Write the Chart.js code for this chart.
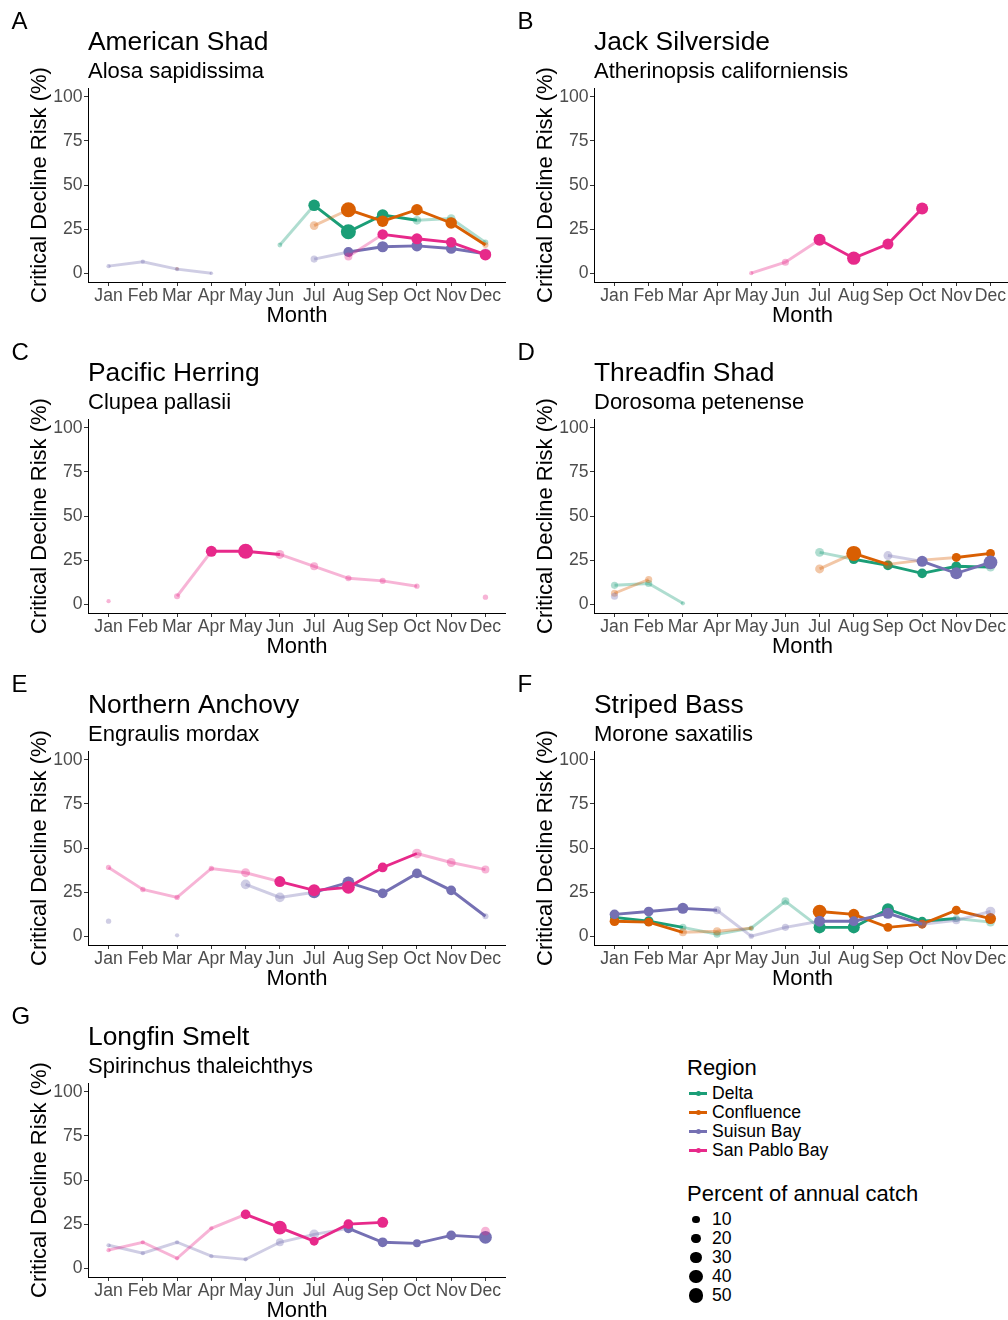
<!DOCTYPE html>
<html>
<head>
<meta charset="utf-8">
<script src="https://cdn.jsdelivr.net/npm/chart.js@4.4.1/dist/chart.umd.min.js"></script>
<style>
html,body{margin:0;padding:0;width:1008px;height:1320px;overflow:hidden;background:#fff;}
#wrap{position:relative;width:1008px;height:1320px;overflow:hidden;font-family:"Liberation Sans",Arial,sans-serif;color:#000;}
.txt{position:absolute;white-space:nowrap;}
</style>
</head>
<body>
<div id="wrap"></div>
<script>
const n = null;
const months = ['Jan','Feb','Mar','Apr','May','Jun','Jul','Aug','Sep','Oct','Nov','Dec'];
const yTicks = [0,25,50,75,100];
const regions = ['Delta','Confluence','Suisun Bay','San Pablo Bay'];
const regionColors = ['#1b9e77','#d95f02','#7570b3','#e7298a'];
const legendCatch = [10,20,30,40,50];

// A American Shad
const shadDelta        = [n,n,n,n,n,16,38.5,23.5,33,30,31,17.5];
const shadDeltaCatch   = [n,n,n,n,n,3,30,55,30,15,15,5];
const shadDeltaSolid   = [0,0,0,0,0,0,1,1,1,0,0,0];
const shadConf         = [n,n,2.5,n,n,n,27,36,29.5,36,28.5,16];
const shadConfCatch    = [n,n,1,n,n,n,15,55,30,30,30,6];
const shadConfSolid    = [0,0,0,0,0,0,0,1,1,1,1,0];
const shadSuisun       = [4,6.5,2.3,0,n,n,8,12,15,15.5,14,11];
const shadSuisunCatch  = [2,2,2,1,n,n,9,21,27,27,24,27];
const shadSuisunSolid  = [0,0,0,0,0,0,0,1,1,1,1,0];
const shadSP           = [n,n,n,n,n,n,n,9.5,22,19.5,17.5,10.5];
const shadSPCatch      = [n,n,n,n,n,n,n,12,24,27,24,30];
const shadSPSolid      = [0,0,0,0,0,0,0,0,1,1,1,1];

// B Jack Silverside
const silvSP           = [n,n,n,n,0,6.2,19,8.5,16.5,36.7,n,n];
const silvSPCatch      = [n,n,n,n,2,9,33,42,27,33,n,n];
const silvSPSolid      = [0,0,0,0,0,0,1,1,1,1,0,0];

// C Pacific Herring
const herrSP           = [1.7,n,4.5,30,30,28.2,21.5,14.7,13.2,10.2,n,4];
const herrSPCatch      = [2,n,6,27,55,16,12,6,6,4,n,4];
const herrSPSolid      = [0,0,0,1,1,0,0,0,0,0,0,0];

// D Threadfin Shad
const thrDelta         = [10.7,11.7,0.5,n,n,n,29.4,25.5,22,17.5,21.5,21];
const thrDeltaCatch    = [9,9,2,n,n,n,16,20,20,20,20,16];
const thrDeltaSolid    = [0,0,0,0,0,0,0,1,1,1,1,0];
const thrConf          = [6.2,14,n,n,n,n,20,28.8,22.6,25,26.5,28.8];
const thrConfCatch     = [9,9,n,n,n,n,16,55,16,10,16,16];
const thrConfSolid     = [0,0,0,0,0,0,0,1,0,0,1,1];
const thrSuisun        = [4.5,n,n,n,n,n,n,n,27.6,24.3,17.5,23.7];
const thrSuisunCatch   = [9,n,n,n,n,n,n,n,16,27,33,45];
const thrSuisunSolid   = [0,0,0,0,0,0,0,0,0,1,1,1];

// E Northern Anchovy
const anchSP           = [39,26.5,22,38.4,36,31,26,27.7,39,46.9,41.8,37.8];
const anchSPCatch      = [4,4,4,4,16,27,33,38,20,20,16,12];
const anchSPSolid      = [0,0,0,0,0,1,1,1,1,0,0,0];
const anchSuisun       = [8.5,n,0.5,n,29.4,22,24.9,30.5,24.3,35.6,26,11.3];
const anchSuisunCatch  = [4,n,2,n,20,20,33,33,20,20,20,6];
const anchSuisunSolid  = [0,0,0,0,0,0,1,1,1,1,1,0];

// F Striped Bass
const bassDelta        = [10.7,8.5,5,1.1,4.5,19.8,5,5,15.3,8.5,10,8];
const bassDeltaCatch   = [16,20,9,9,4,12,33,33,33,16,9,16];
const bassDeltaSolid   = [1,1,0,0,0,0,1,1,1,1,0,0];
const bassConf         = [8.5,8,2.2,2.8,4.5,n,14,12.4,5,6.8,14.7,10];
const bassConfCatch    = [20,16,12,12,2,n,45,27,16,16,16,27];
const bassConfSolid    = [1,1,0,0,0,0,1,1,1,1,1,1];
const bassSuisun       = [12.4,14,15.8,14.7,0,5,8.5,8.5,13,6.8,9,14];
const bassSuisunCatch  = [20,20,27,12,4,9,27,20,27,12,12,20];
const bassSuisunSolid  = [1,1,1,0,0,0,1,1,1,0,0,0];

// G Longfin Smelt
const smeltSP          = [10.2,14.7,5.6,22.6,30.5,23,15.3,25,26,n,n,21];
const smeltSPCatch     = [2,2,2,2,20,45,16,20,27,n,n,16];
const smeltSPSolid     = [0,0,0,0,1,1,1,1,1,0,0,0];
const smeltSuisun      = [13,8.5,14.7,6.8,5,14.7,19.2,22.6,14.7,14.1,18.6,17.5];
const smeltSuisunCatch = [2,2,2,2,2,12,20,20,20,12,20,38];
const smeltSuisunSolid = [0,0,0,0,0,0,0,1,1,1,1,1];

const FONT = '"Liberation Sans", Arial, sans-serif';
const wrap = document.getElementById('wrap');
const rowTops = [0, 331, 663, 995];

function radius(p){ return 0.87 + 0.895 * Math.sqrt(p); }
function fade(hex, a){
  const r = parseInt(hex.slice(1,3),16), g = parseInt(hex.slice(3,5),16), b = parseInt(hex.slice(5,7),16);
  return `rgba(${r},${g},${b},${a})`;
}

const panels = [
  {letter:'A', title:'American Shad', sub:'Alosa sapidissima', series:[
    {r:0, v:shadDelta, c:shadDeltaCatch, s:shadDeltaSolid},
    {r:1, v:shadConf, c:shadConfCatch, s:shadConfSolid},
    {r:2, v:shadSuisun, c:shadSuisunCatch, s:shadSuisunSolid},
    {r:3, v:shadSP, c:shadSPCatch, s:shadSPSolid}]},
  {letter:'B', title:'Jack Silverside', sub:'Atherinopsis californiensis', series:[
    {r:3, v:silvSP, c:silvSPCatch, s:silvSPSolid}]},
  {letter:'C', title:'Pacific Herring', sub:'Clupea pallasii', series:[
    {r:3, v:herrSP, c:herrSPCatch, s:herrSPSolid}]},
  {letter:'D', title:'Threadfin Shad', sub:'Dorosoma petenense', series:[
    {r:0, v:thrDelta, c:thrDeltaCatch, s:thrDeltaSolid},
    {r:1, v:thrConf, c:thrConfCatch, s:thrConfSolid},
    {r:2, v:thrSuisun, c:thrSuisunCatch, s:thrSuisunSolid}]},
  {letter:'E', title:'Northern Anchovy', sub:'Engraulis mordax', series:[
    {r:2, v:anchSuisun, c:anchSuisunCatch, s:anchSuisunSolid},
    {r:3, v:anchSP, c:anchSPCatch, s:anchSPSolid}]},
  {letter:'F', title:'Striped Bass', sub:'Morone saxatilis', series:[
    {r:0, v:bassDelta, c:bassDeltaCatch, s:bassDeltaSolid},
    {r:1, v:bassConf, c:bassConfCatch, s:bassConfSolid},
    {r:2, v:bassSuisun, c:bassSuisunCatch, s:bassSuisunSolid}]},
  {letter:'G', title:'Longfin Smelt', sub:'Spirinchus thaleichthys', series:[
    {r:2, v:smeltSuisun, c:smeltSuisunCatch, s:smeltSuisunSolid},
    {r:3, v:smeltSP, c:smeltSPCatch, s:smeltSPSolid}]}
];

function addText(text, left, centerY, size, extra){
  const d = document.createElement('div');
  d.className = 'txt';
  d.textContent = text;
  const lh = Math.round(size * 1.2);
  d.style.cssText += `left:${left}px;top:${centerY - lh/2}px;font-size:${size}px;line-height:${lh}px;` + (extra||'');
  wrap.appendChild(d);
  return d;
}

panels.forEach((p, idx) => {
  const col = idx % 2, row = Math.floor(idx / 2);
  const left = col ? 506 : 0;
  const width = col ? 505 : 506;
  const top = rowTops[row];
  const H = 332;
  const canvas = document.createElement('canvas');
  canvas.width = width; canvas.height = H;
  canvas.style.cssText = `position:absolute;left:${left}px;top:${top}px;width:${width}px;height:${H}px;`;
  wrap.appendChild(canvas);

  addText(p.letter, left + 11.5, top + 20.5, 24);

  const datasets = p.series.map(s => {
    const colr = regionColors[s.r];
    const faded = fade(colr, 0.35);
    return {
      label: regions[s.r],
      order: 3 - s.r,
      data: s.v.map((y, i) => ({x: i + 1, y: y})),
      borderColor: colr,
      borderWidth: 2.9,
      spanGaps: false,
      tension: 0,
      clip: false,
      segment: { borderColor: ctx => s.s[ctx.p0DataIndex] ? colr : faded },
      pointRadius: s.c.map(c => c == null ? 0 : radius(c)),
      pointHoverRadius: s.c.map(c => c == null ? 0 : radius(c)),
      pointBackgroundColor: s.s.map(f => f ? colr : faded),
      pointBorderWidth: 0,
      pointBorderColor: 'rgba(0,0,0,0)'
    };
  });

  new Chart(canvas, {
    type: 'line',
    data: { datasets },
    options: {
      responsive: false,
      animation: false,
      devicePixelRatio: 1,
      layout: { padding: 0, autoPadding: false },
      events: [],
      plugins: {
        legend: { display: false },
        tooltip: { enabled: false },
        title: { display: true, text: p.title, align: 'start', fullSize: false, color: '#000',
                 font: { family: FONT, size: 26.4, weight: 'normal' }, padding: { top: 27, bottom: 0 } },
        subtitle: { display: true, text: p.sub, align: 'start', fullSize: false, color: '#000',
                 font: { family: FONT, size: 22, weight: 'normal' }, padding: { top: 0.5, bottom: 2.5 } }
      },
      scales: {
        x: {
          type: 'linear', min: 0.4, max: 12.6,
          afterBuildTicks: sc => { sc.ticks = months.map((m, i) => ({ value: i + 1 })); },
          afterFit: sc => { sc.height = 50; sc.paddingLeft = 0; sc.paddingRight = 0; },
          ticks: { callback: v => months[v - 1], color: '#4d4d4d', autoSkip: false, maxRotation: 0, minRotation: 0,
                   font: { family: FONT, size: 17.6 }, padding: 0 },
          grid: { drawOnChartArea: false, drawTicks: true, tickLength: 4, color: '#333', tickColor: '#333', lineWidth: 1 },
          border: { display: true, color: '#000', width: 1 },
          title: { display: true, text: 'Month', color: '#000', font: { family: FONT, size: 22 }, padding: { top: 0, bottom: 3 } }
        },
        y: {
          min: -5, max: 105,
          afterBuildTicks: sc => { sc.ticks = yTicks.map(v => ({ value: v })); },
          afterFit: sc => { sc.width = 88; sc.paddingTop = 0; sc.paddingBottom = 0; },
          ticks: { color: '#4d4d4d', font: { family: FONT, size: 17.6 }, padding: 1.5 },
          grid: { drawOnChartArea: false, drawTicks: true, tickLength: 4, color: '#333', tickColor: '#333', lineWidth: 1 },
          border: { display: true, color: '#000', width: 1 },
          title: { display: true, text: 'Critical Decline Risk (%)', color: '#000', font: { family: FONT, size: 22 }, padding: { top: 27, bottom: 0 } }
        }
      }
    }
  });
});

// Legend
addText('Region', 687, 1068, 22);
regions.forEach((name, i) => {
  const cy = 1093 + i * 19;
  const line = document.createElement('div');
  line.style.cssText = `position:absolute;left:689px;top:${cy - 1.5}px;width:18px;height:3px;background:${regionColors[i]};`;
  wrap.appendChild(line);
  const dot = document.createElement('div');
  dot.style.cssText = `position:absolute;left:${698 - 2.5}px;top:${cy - 2.5}px;width:5px;height:5px;border-radius:50%;background:${regionColors[i]};`;
  wrap.appendChild(dot);
  addText(name, 712, cy, 17.6);
});
addText('Percent of annual catch', 687, 1194, 22);
legendCatch.forEach((v, i) => {
  const cy = 1219.5 + i * 19;
  const r = radius(v);
  const dot = document.createElement('div');
  dot.style.cssText = `position:absolute;left:${696 - r}px;top:${cy - r}px;width:${2*r}px;height:${2*r}px;border-radius:50%;background:#000;`;
  wrap.appendChild(dot);
  addText(String(v), 712, cy, 17.6);
});
</script>
</body>
</html>
